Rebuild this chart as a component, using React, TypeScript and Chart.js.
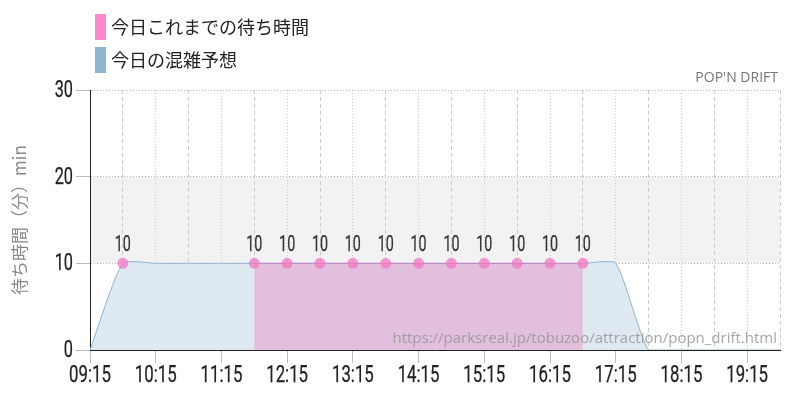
import React, { useEffect, useRef } from "react";
import { Chart, registerables } from "chart.js";

Chart.register(...registerables);

const times = [
  "09:15", "09:45", "10:15", "10:45", "11:15", "11:45", "12:15", "12:45",
  "13:15", "13:45", "14:15", "14:45", "15:15", "15:45", "16:15", "16:45",
  "17:15", "17:45", "18:15", "18:45", "19:15", "19:45",
];
const actualWait: (number | null)[] = [
  null, 10, null, null, null, 10, 10, 10,
  10, 10, 10, 10, 10, 10, 10, 10,
  null, null, null, null, null, null,
];
const forecastWait: number[] = [
  0, 10, 10, 10, 10, 10, 10, 10,
  10, 10, 10, 10, 10, 10, 10, 10,
  10, 0, 0, 0, 0, 0,
];
const yTicks = [0, 10, 20, 30];
const legendLabels = ["今日これまでの待ち時間", "今日の混雑予想"];
const legendColors = ["#ff88cc", "#8fb4d0"];
const attractionName = "POP'N DRIFT";
const sourceUrl = "https://parksreal.jp/tobuzoo/attraction/popn_drift.html";
const yTitle = "待ち時間（分）min";

const CJK = '"Noto Sans CJK JP", "Noto Sans", sans-serif';
const NARROW = '24px Roboto, "Open Sans", sans-serif';

function narrowText(ctx: CanvasRenderingContext2D, text: string, x: number, y: number, sx: number) {
  ctx.save();
  ctx.translate(x, y);
  ctx.scale(sx, 1);
  ctx.lineWidth = 0.25;
  ctx.strokeStyle = ctx.fillStyle as string;
  ctx.fillText(text, 0, 0);
  ctx.strokeText(text, 0, 0);
  ctx.restore();
}

export default function App() {
  const ref = useRef<HTMLCanvasElement>(null);
  useEffect(() => {
    document.body.style.margin = "0";
    const canvas = ref.current;
    if (!canvas) return;

    const bandPlugin = {
      id: "band",
      beforeDraw(chart: any) {
        const { ctx, chartArea, scales } = chart;
        const y20 = scales.y.getPixelForValue(20);
        const y10 = scales.y.getPixelForValue(10);
        ctx.save();
        ctx.fillStyle = "#f2f2f2";
        ctx.fillRect(chartArea.left, y20, chartArea.right - chartArea.left, y10 - y20);
        ctx.restore();
      },
    };

    const overlayPlugin = {
      id: "overlay",
      afterDatasetsDraw(chart: any) {
        const { ctx } = chart;
        const meta = chart.getDatasetMeta(0);
        ctx.save();
        ctx.font = '22px Roboto, "Open Sans", sans-serif';
        ctx.fillStyle = "#333";
        ctx.textAlign = "center";
        ctx.textBaseline = "alphabetic";
        meta.data.forEach((el: any, i: number) => {
          const v = actualWait[i];
          if (v === null) return;
          narrowText(ctx, String(v), el.x, el.y - 12, 0.65);
        });
        ctx.restore();
      },
      afterDraw(chart: any) {
        const { ctx, chartArea, scales } = chart;
        ctx.save();
        // axis tick labels (condensed)
        ctx.font = NARROW;
        ctx.fillStyle = "#222";
        ctx.textBaseline = "middle";
        ctx.textAlign = "right";
        yTicks.forEach((v) => {
          narrowText(ctx, String(v), chartArea.left - 17, scales.y.getPixelForValue(v) + 1, 0.68);
        });
        ctx.textAlign = "center";
        times.forEach((t, i) => {
          if (!t.endsWith(":15")) return;
          narrowText(ctx, t, scales.x.getPixelForValue(i), chartArea.bottom + 26, 0.7);
        });
        // legend
        legendLabels.forEach((lab, i) => {
          const top = 14 + i * 33;
          ctx.fillStyle = legendColors[i];
          ctx.fillRect(95, top, 11, 26);
          ctx.fillStyle = "#222";
          ctx.font = `18px ${CJK}`;
          ctx.textAlign = "left";
          ctx.textBaseline = "middle";
          ctx.fillText(lab, 111, top + 13);
        });
        // attraction name
        ctx.fillStyle = "#777";
        ctx.font = `14px "Open Sans", "Noto Sans", sans-serif`;
        ctx.textAlign = "right";
        ctx.textBaseline = "middle";
        ctx.fillText(attractionName, chartArea.right - 2, 78);
        // url
        ctx.fillStyle = "rgba(150,150,150,0.85)";
        ctx.font = `15px "Open Sans", "Noto Sans", sans-serif`;
        ctx.textAlign = "right";
        ctx.textBaseline = "middle";
        ctx.fillText(sourceUrl, chartArea.right - 3, chartArea.bottom - 11);
        ctx.restore();
      },
    };

    const chart = new Chart(canvas, {
      type: "line",
      data: {
        labels: times,
        datasets: [
          {
            label: legendLabels[0],
            data: actualWait,
            borderColor: "rgba(200,120,200,0.8)",
            borderWidth: 1,
            backgroundColor: "rgba(232,128,189,0.4)",
            fill: "origin",
            pointRadius: 5.5,
            pointBackgroundColor: "rgba(242,120,195,0.75)",
            pointBorderWidth: 0,
            tension: 0,
            spanGaps: false,
          },
          {
            label: legendLabels[1],
            data: forecastWait,
            borderColor: "rgba(140,180,210,1)",
            borderWidth: 1,
            backgroundColor: "rgb(222,233,242)",
            fill: "origin",
            pointRadius: 0,
            tension: 0.18,
          },
        ],
      },
      options: {
        responsive: false,
        animation: false,
        layout: { padding: { top: 90, right: 20, left: 0, bottom: 0 } },
        plugins: {
          legend: { display: false },
          tooltip: { enabled: false },
        },
        scales: {
          x: {
            type: "category",
            offset: false,
            afterFit(s: any) {
              s.height = 50;
            },
            ticks: {
              autoSkip: false,
              maxRotation: 0,
              minRotation: 0,
              color: "rgba(0,0,0,0)",
              font: { size: 14 },
              callback(_v: any, i: number) {
                const l = times[i];
                return l.endsWith(":15") ? l : "";
              },
            },
            grid: {
              color: "#cccccc",
              lineWidth: 1,
              tickLength: 13,
              tickColor: (c: any) => (c.index % 2 === 0 ? "#bbbbbb" : "rgba(0,0,0,0)"),
            },
            border: {
              display: true,
              color: "#222",
              width: 1,
              dash: (c: any) =>
                c.type === "tick" ? (c.index % 2 === 0 ? [1, 2] : [4, 3]) : [],
            },
          },
          y: {
            min: 0,
            max: 30,
            afterFit(s: any) {
              s.width = 90;
            },
            afterBuildTicks(s: any) {
              s.ticks = yTicks.map((v) => ({ value: v }));
            },
            ticks: {
              color: "rgba(0,0,0,0)",
              font: { size: 14 },
              padding: 3,
            },
            grid: {
              color: "#bbbbbb",
              tickLength: 14,
              tickColor: "#bbbbbb",
            },
            border: {
              display: true,
              color: "#222",
              width: 1,
              dash: (c: any) => (c.type === "tick" ? [1, 2] : []),
            },
            title: {
              display: true,
              text: yTitle,
              color: "#888",
              font: { family: CJK, size: 17 },
              padding: { top: 9, bottom: 0 },
            },
          },
        },
      },
      plugins: [bandPlugin, overlayPlugin],
    });
    return () => chart.destroy();
  }, []);

  return (
    <div style={{ width: 800, height: 400 }}>
      <canvas ref={ref} width={800} height={400} />
    </div>
  );
}
